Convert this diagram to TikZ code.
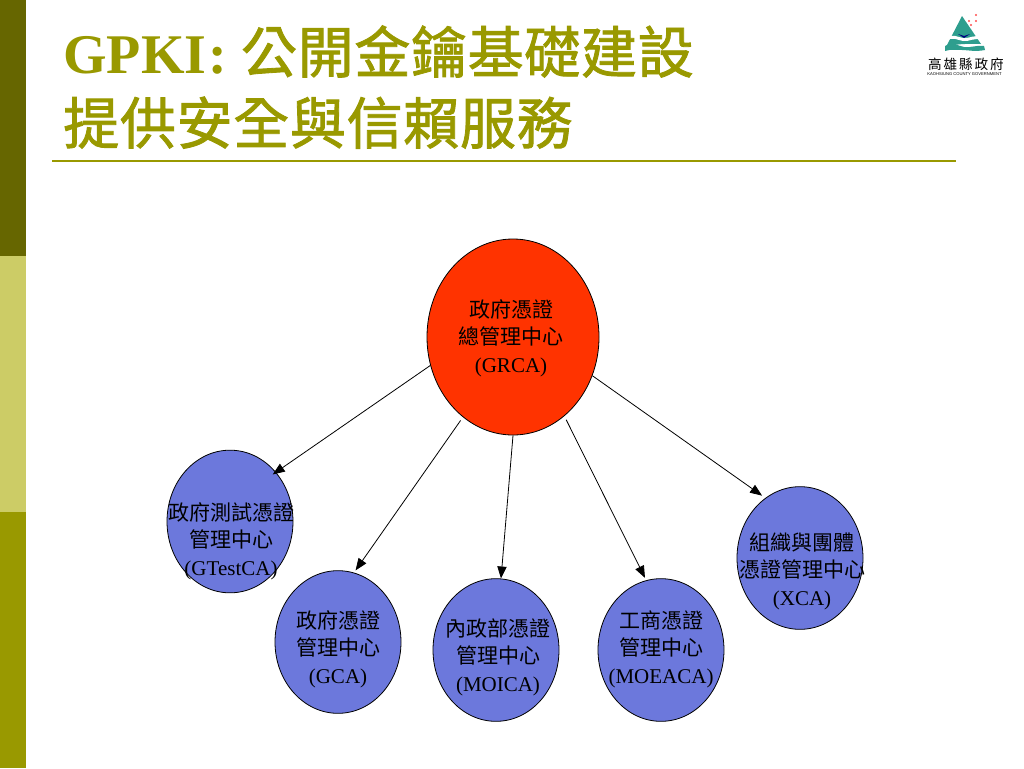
\documentclass[tikz,border=0pt]{standalone}
\usepackage{fontspec}
\setmainfont{Liberation Serif}
\setsansfont{Liberation Sans}
\newfontfamily\cjk{Noto Sans CJK TC}
\newfontfamily\cjktitle[FakeBold=1.5,LetterSpace=1.2]{Noto Sans CJK TC}
\newfontfamily\cjklogo[LetterSpace=14]{Noto Sans CJK TC}
\usetikzlibrary{arrows.meta}
\usetikzlibrary{shapes.geometric}
\definecolor{olivedark}{HTML}{666600}
\definecolor{olivelight}{HTML}{CCCC66}
\definecolor{olivemain}{HTML}{999900}
\definecolor{rootred}{HTML}{FF3300}
\definecolor{cablue}{HTML}{6C78DC}
\definecolor{logoteal}{HTML}{2E9E8E}
\begin{document}
\begin{tikzpicture}[x=0.75pt,y=-0.75pt]
    \useasboundingbox (0,0) rectangle (1024,768);
    % side bar and title
    \fill[olivedark] (0,0) rectangle (26,256);
    \fill[olivelight] (0,256) rectangle (26,512);
    \fill[olivemain] (0,512) rectangle (26,768);
    \node[anchor=base west,inner sep=0pt,text=olivemain,font=\fontsize{42}{42}\selectfont\bfseries] (titleone) at (63,73) {GPKI\hspace{1.5pt}:\hspace{10.5pt}{\mdseries\cjktitle 公開金鑰基礎建設}};
    \node[anchor=base west,inner sep=0pt,text=olivemain,font=\fontsize{42}{42}\selectfont] (titletwo) at (63,144) {\cjktitle 提供安全與信賴服務};
    \draw[olivemain,line width=1.6pt] (52,161) -- (956,161);
    % logo
    \fill[logoteal] (962,16) -- (946,47) .. controls (958,43) and (972,44) .. (981,44) -- cycle;
    \fill[white] (945,38) .. controls (952,33) and (957,37) .. (963,38) .. controls (969,39) and (975,34) .. (982,37) -- (982,40) .. controls (975,37) and (969,42) .. (963,41) .. controls (957,40) and (952,36) .. (945,41) -- cycle;
    \fill[logoteal] (945,46) .. controls (953,41) and (958,46) .. (964,47) .. controls (970,48) and (976,45) .. (984,46) -- (985,50) .. controls (975,52) and (968,50) .. (962,50) .. controls (956,50) and (951,49) .. (945,51) -- cycle;
    \fill[blue!50!black] (958,34) -- (964,38) -- (970,34) -- (964,36) -- cycle;
    \foreach \dotx/\doty in {976/15,976/21,969/21,971/25}
        \fill[red!70!white] (\dotx,\doty) circle (1.2);
    \node[inner sep=0pt,font=\fontsize{10.2}{11}\selectfont] (logoname) at (966,64) {\cjklogo 高雄縣政府};
    \node[inner sep=0pt,font=\sffamily\fontsize{3.1}{4}\selectfont] (logoeng) at (964.5,74) {KAOHSIUNG COUNTY GOVERNMENT};
    % diagram
    \begin{scope}[-{Triangle[length=9pt,width=7pt]},line width=0.6pt,
        main node/.style={ellipse,draw,inner sep=0pt,fill=rootred,minimum width=129pt,minimum height=147pt},
        ca node/.style={ellipse,draw,inner sep=0pt,fill=cablue,minimum width=94.5pt,minimum height=107pt},
        ca text/.style={align=center,inner sep=0pt,font=\fontsize{15.75}{20.6}\selectfont}]
    \node[main node] (grca) at (513,337) {};
    \node[ca node] (gtest) at (230,521.5) {};
    \node[ca node] (gca) at (338,642) {};
    \node[ca node] (moica) at (496,650) {};
    \node[ca node] (moeaca) at (661,650) {};
    \node[ca node] (xca) at (800,558) {};
    \node[ca text] (grcatext) at (511,338) {{\cjk 政府憑證}\\{\cjk 總管理中心}\\(GRCA)};
    \node[ca text] (gtesttext) at (231,541) {{\cjk 政府測試憑證}\\{\cjk 管理中心}\\(GTestCA)};
    \node[ca text] (gcatext) at (338,649) {{\cjk 政府憑證}\\{\cjk 管理中心}\\(GCA)};
    \node[ca text] (moicatext) at (498,657) {{\cjk 內政部憑證}\\{\cjk 管理中心}\\(MOICA)};
    \node[ca text] (moeacatext) at (661,649) {{\cjk 工商憑證}\\{\cjk 管理中心}\\(MOEACA)};
    \node[ca text] (xcatext) at (802,571) {{\cjk 組織與團體}\\{\cjk 憑證管理中心}\\(XCA)};
    \path (grca.199) edge[shorten >=-3pt] (gtest.47)
    (grca.238) edge[shorten <=3pt,shorten >=2pt] (gca.77)
    (grca.270) edge (moica.86)
    (grca.303) edge[shorten <=3pt,shorten >=2pt] (moeaca.102)
    (grca.334) edge[shorten >=3pt] (xca.120);
    \end{scope}
\end{tikzpicture}
\end{document}
